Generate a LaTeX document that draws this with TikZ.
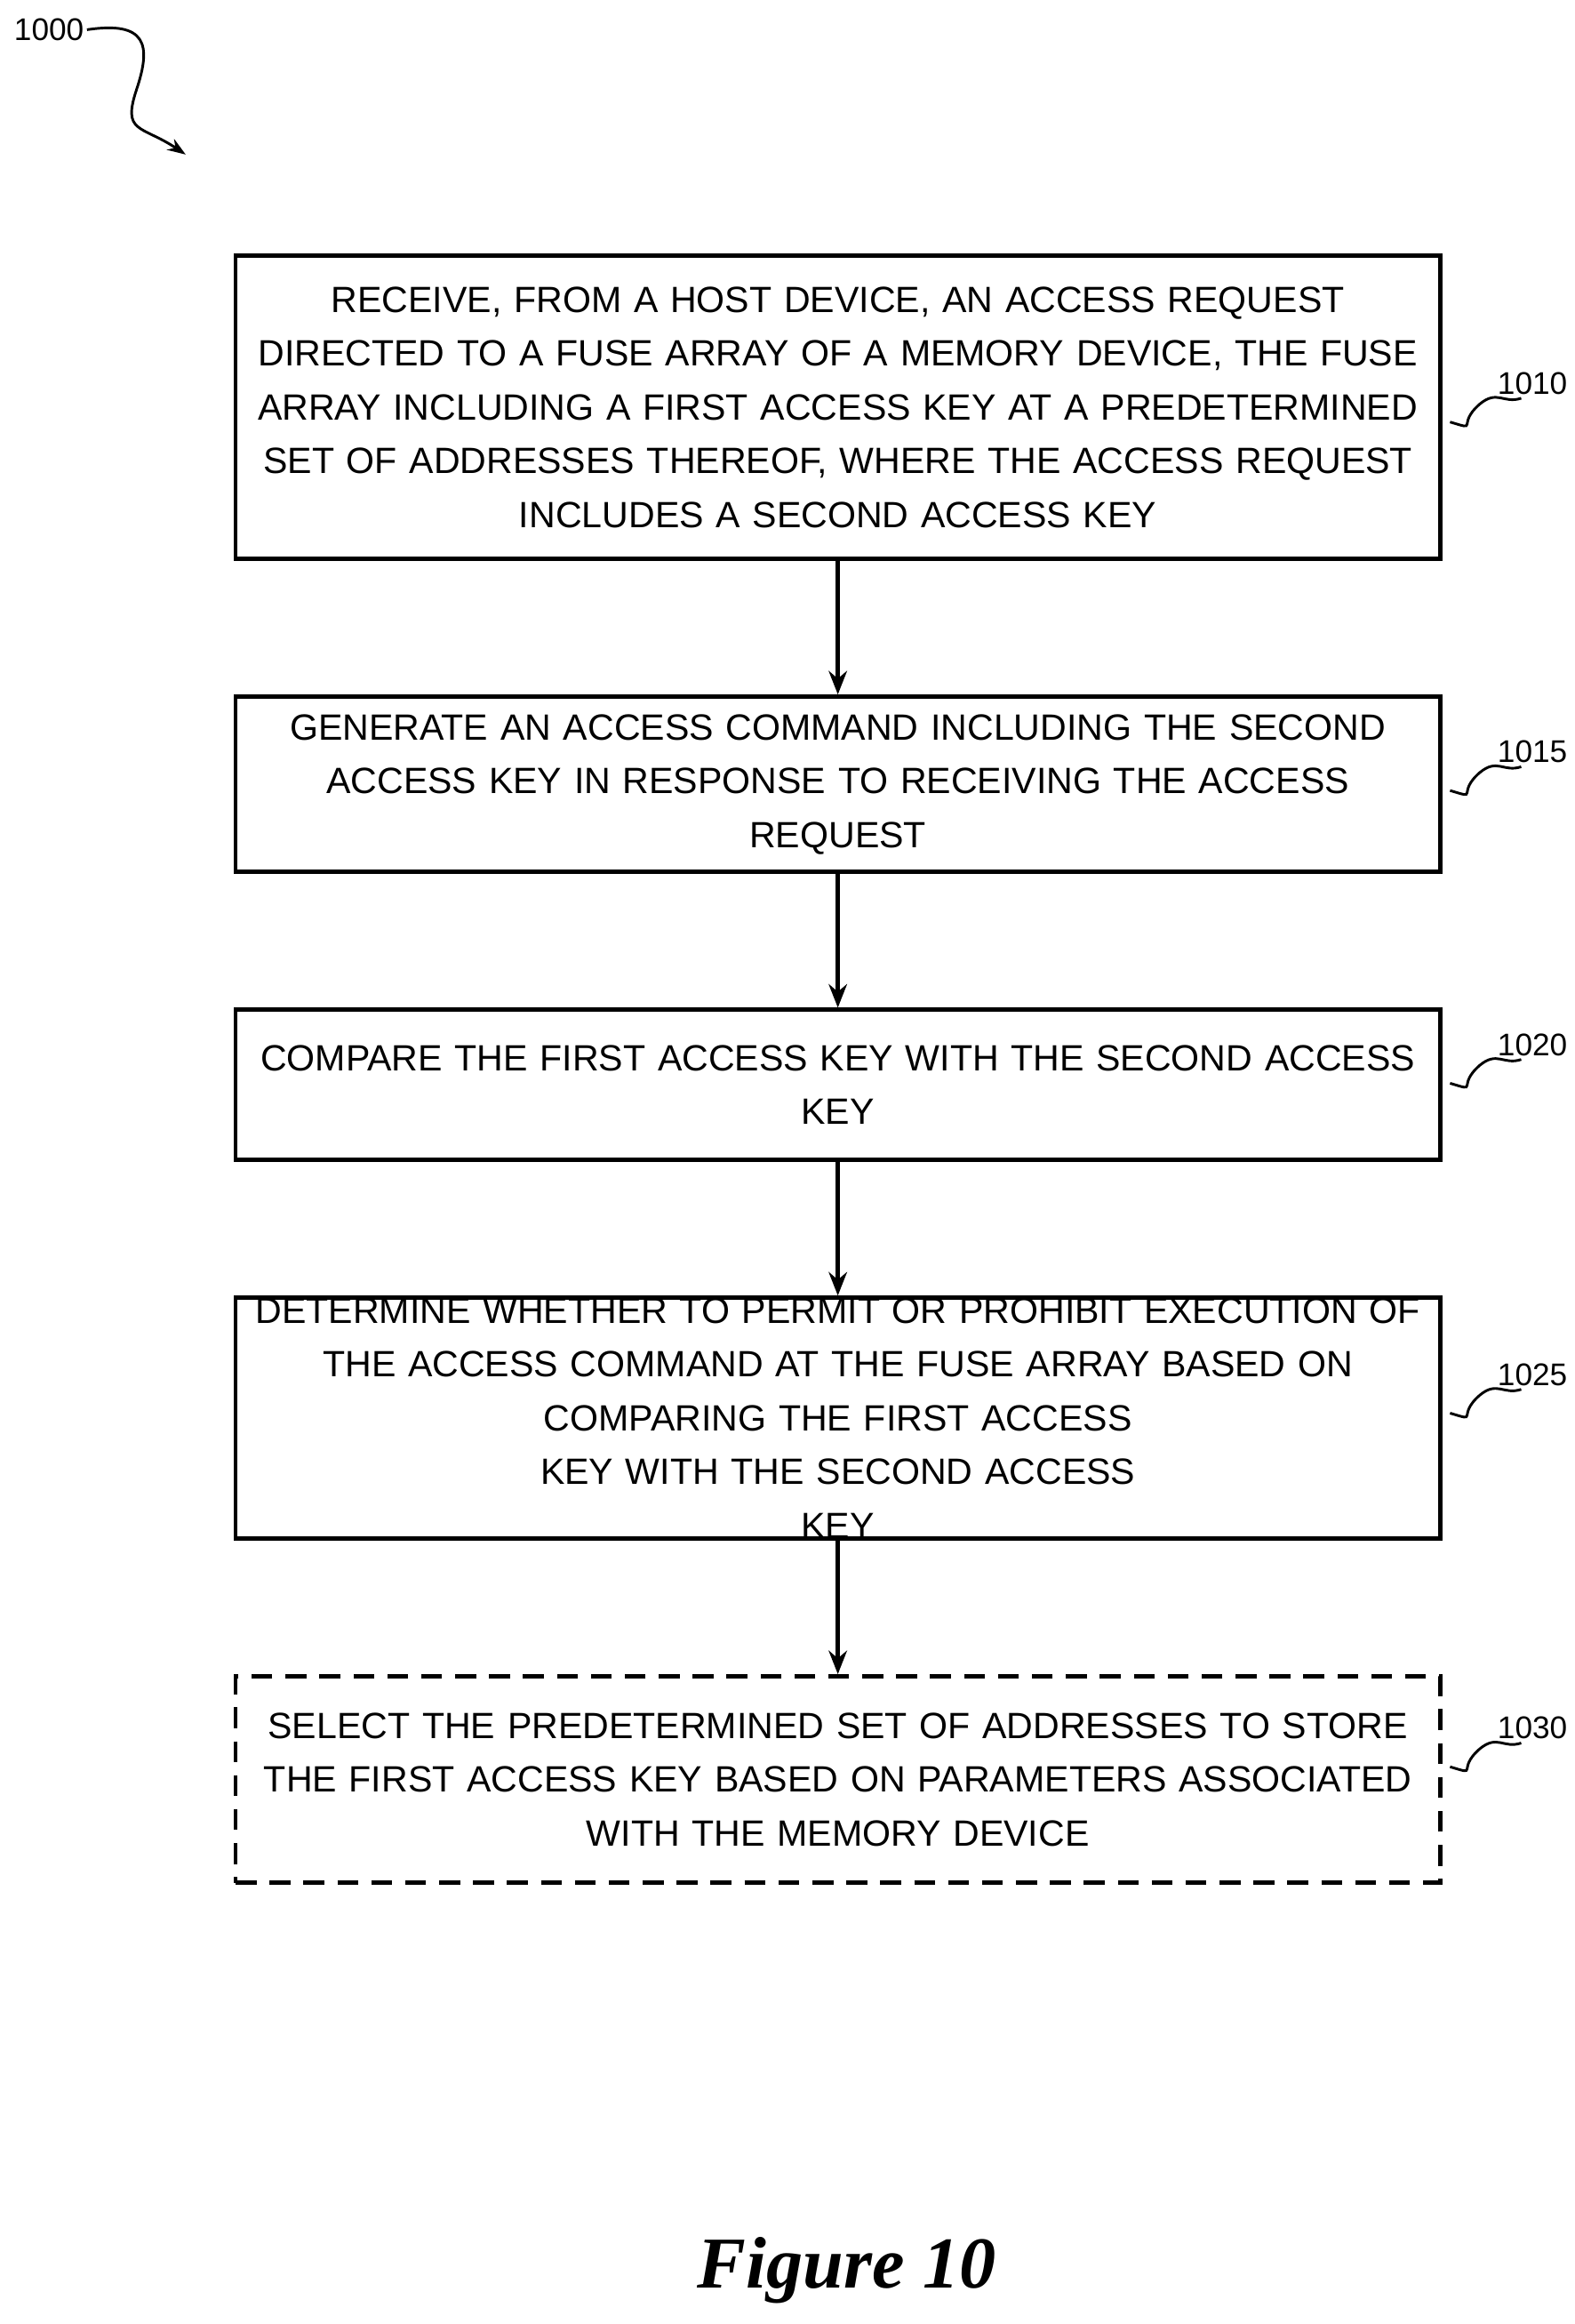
\documentclass[tikz,border=0pt]{standalone}
\usepackage{fontspec}
\setmainfont{Liberation Sans}
\newfontfamily\figfont{Liberation Serif}
\usetikzlibrary{positioning,arrows.meta}

\begin{document}
\begin{tikzpicture}[
            x=0.02cm, y=-0.02cm,
            box/.style={draw, line width=1.6pt, text width=15.9cm, minimum width=16.22cm, align=center,
                         inner xsep=0.16cm, inner ysep=0pt, font={\fontsize{14pt}{20.6pt}\selectfont}},
            opt/.style={box, dashed, dash pattern=on 8pt off 5pt},
            lbl/.style={font={\fontsize{12pt}{14pt}\selectfont}, anchor=west, inner sep=1pt},
            flow/.style={-{Stealth[length=9pt,width=7pt]}, line width=1.5pt},
            wave/.style={line width=1pt}
        ]
        \useasboundingbox (0,0) rectangle (1060,1564);
        % process steps
        \node[box, minimum height=4.08cm] (s1) at (564,274)
            {RECEIVE, FROM A HOST DEVICE, AN ACCESS REQUEST\\
             DIRECTED TO A FUSE ARRAY OF A MEMORY DEVICE, THE FUSE\\
             ARRAY INCLUDING A FIRST ACCESS KEY AT A PREDETERMINED\\
             SET OF ADDRESSES THEREOF, WHERE THE ACCESS REQUEST\\
             INCLUDES A SECOND ACCESS KEY};
        \node[box, minimum height=2.36cm, below=1.8cm of s1] (s2)
            {GENERATE AN ACCESS COMMAND INCLUDING THE SECOND\\
             ACCESS KEY IN RESPONSE TO RECEIVING THE ACCESS\\
             REQUEST};
        \node[box, minimum height=2.02cm, below=1.8cm of s2] (s3)
            {COMPARE THE FIRST ACCESS KEY WITH THE SECOND ACCESS\\
             KEY};
        \node[box, minimum height=3.24cm, below=1.8cm of s3] (s4)
            {DETERMINE WHETHER TO PERMIT OR PROHIBIT EXECUTION OF\\
             THE ACCESS COMMAND AT THE FUSE ARRAY BASED ON\\
             COMPARING THE FIRST ACCESS KEY WITH THE SECOND ACCESS\\
             KEY};
        \node[opt, minimum height=2.78cm, below=1.8cm of s4] (s5)
            {SELECT THE PREDETERMINED SET OF ADDRESSES TO STORE\\
             THE FIRST ACCESS KEY BASED ON PARAMETERS ASSOCIATED\\
             WITH THE MEMORY DEVICE};
        % arrows
        \draw[flow] (s1) -- (s2);
        \draw[flow] (s2) -- (s3);
        \draw[flow] (s3) -- (s4);
        \draw[flow] (s4) -- (s5);
        % reference numerals
        \foreach \s/\n/\y in {s1/1010/258, s2/1015/506, s3/1020/703, s4/1025/925, s5/1030/1163} {
            \node[lbl] (l\n) at (1006,\y) {\n};
            \draw[wave] ([xshift=3pt]\s.east |- 0,\y+26) .. controls +(20,6) and +(-16,14) .. (996,\y+14)
                .. controls +(12,-10) and +(-12,4) .. (1024,\y+10);
        }
        \node[lbl, anchor=center] (fig) at (33,20) {1000};
        \coordinate (figtip) at (125,104);
        \draw[wave, -{Stealth[length=7pt,width=5pt]}] (fig.east) .. controls +(40,-6) and +(10,-30) .. (92,60)
            .. controls +(-10,30) and +(-30,-20) .. (figtip);
        % caption
        \node[font={\figfont\bfseries\itshape\fontsize{28pt}{32pt}\selectfont}] (cap) at (570,1528) {Figure 10};
    \end{tikzpicture}
\end{document}
